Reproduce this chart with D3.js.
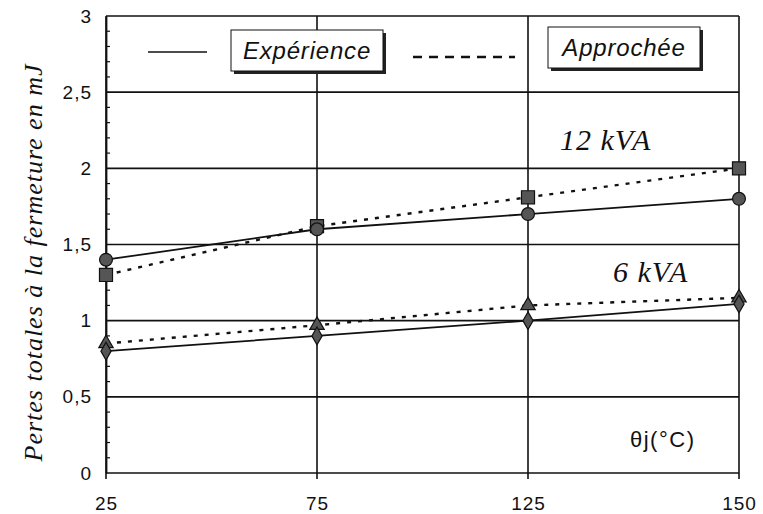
<!DOCTYPE html>
<html>
<head>
<meta charset="utf-8">
<script src="https://cdn.jsdelivr.net/npm/d3@7"></script>
<style>
  body { margin: 0; background: #fff; }
  svg { display: block; }
</style>
</head>
<body>
<svg id="chart" width="763" height="514"></svg>
<script>
// données
var temperatures = ["25", "75", "125", "150"];
var yTicks = [0, 0.5, 1, 1.5, 2, 2.5, 3];
var exp12 = [1.4, 1.6, 1.7, 1.8];     // Expérience 12 kVA
var app12 = [1.3, 1.62, 1.81, 2.0];   // Approchée 12 kVA
var exp6 = [0.8, 0.9, 1.0, 1.11];     // Expérience 6 kVA
var app6 = [0.85, 0.97, 1.1, 1.15];   // Approchée 6 kVA

var svg = d3.select("#chart");
var margin = { top: 16, right: 24, bottom: 41, left: 106 };
var width = +svg.attr("width") - margin.left - margin.right;
var height = +svg.attr("height") - margin.top - margin.bottom;

var g = svg.append("g")
  .attr("transform", "translate(" + margin.left + "," + margin.top + ")");

var x = d3.scalePoint().domain(temperatures).range([0, width]).padding(0);
var y = d3.scaleLinear().domain([0, 3]).range([height, 0]);

var sans = "Liberation Sans, Arial, sans-serif";
var serif = "Liberation Serif, Times New Roman, serif";

// grille horizontale
g.append("g").selectAll("line")
  .data(yTicks)
  .enter().append("line")
  .attr("x1", 0).attr("x2", width)
  .attr("y1", function(d) { return y(d); })
  .attr("y2", function(d) { return y(d); })
  .attr("stroke", "#111").attr("stroke-width", 1.6);

// grille verticale
g.append("g").selectAll("line")
  .data(temperatures)
  .enter().append("line")
  .attr("x1", function(d) { return x(d); })
  .attr("x2", function(d) { return x(d); })
  .attr("y1", 0).attr("y2", height + 6)
  .attr("stroke", "#111").attr("stroke-width", 1.6);

// petites graduations
var minor = d3.range(0, 3.01, 0.1).filter(function(d) { return Math.abs(d * 2 - Math.round(d * 2)) > 0.01; });
g.append("g").selectAll("line")
  .data(minor)
  .enter().append("line")
  .attr("x1", 0).attr("x2", 4)
  .attr("y1", function(d) { return y(d); })
  .attr("y2", function(d) { return y(d); })
  .attr("stroke", "#111").attr("stroke-width", 1.2);

// axes
var yAxis = g.append("g")
  .call(d3.axisLeft(y).tickValues(yTicks).tickSize(0).tickPadding(14)
    .tickFormat(function(d) { return String(d).replace(".", ","); }));
yAxis.select(".domain").attr("stroke", "#111").attr("stroke-width", 1.8);
yAxis.selectAll("text")
  .style("font-family", sans)
  .style("font-size", "19px").style("letter-spacing", "1px").attr("fill", "#111");

var xAxis = g.append("g")
  .attr("transform", "translate(0," + height + ")")
  .call(d3.axisBottom(x).tickSize(0).tickPadding(24));
xAxis.select(".domain").remove();
xAxis.selectAll("text")
  .style("font-family", sans)
  .style("font-size", "19px").style("letter-spacing", "1px").attr("fill", "#111");

// courbes
var line = d3.line()
  .x(function(d, i) { return x(temperatures[i]); })
  .y(function(d) { return y(d); });

function drawLine(values, dashed) {
  g.append("path")
    .datum(values)
    .attr("d", line)
    .attr("fill", "none")
    .attr("stroke", "#111")
    .attr("stroke-width", dashed ? 2.4 : 1.8)
    .attr("stroke-dasharray", dashed ? "4,7" : null);
}
drawLine(app12, true);
drawLine(exp12, false);
drawLine(app6, true);
drawLine(exp6, false);

function drawMarkers(values, type, size) {
  g.append("g").selectAll("path")
    .data(values)
    .enter().append("path")
    .attr("transform", function(d, i) { return "translate(" + x(temperatures[i]) + "," + y(d) + ")"; })
    .attr("d", d3.symbol().type(type).size(size))
    .attr("fill", "#555")
    .attr("stroke", "#111")
    .attr("stroke-width", 1.2);
}
drawMarkers(app12, d3.symbolSquare, 170);
drawMarkers(exp12, d3.symbolCircle, 130);
drawMarkers(app6, d3.symbolTriangle, 90);
drawMarkers(exp6, d3.symbolDiamond, 90);

// légende
var legend = [
  { label: "Expérience", x1: 42, x2: 101, ly: 36, bx: 125, by: 14, bw: 152, dashed: false },
  { label: "Approchée", x1: 307, x2: 409, ly: 41, bx: 442, by: 11, bw: 152, dashed: true }
];
legend.forEach(function(l) {
  g.append("line")
    .attr("x1", l.x1).attr("x2", l.x2)
    .attr("y1", l.ly).attr("y2", l.ly)
    .attr("stroke", "#111")
    .attr("stroke-width", l.dashed ? 2.4 : 1.4)
    .attr("stroke-dasharray", l.dashed ? "9,7" : null);
  g.append("rect")
    .attr("x", l.bx + 3).attr("y", l.by + 3)
    .attr("width", l.bw).attr("height", 41)
    .attr("fill", "#222");
  g.append("rect")
    .attr("x", l.bx).attr("y", l.by)
    .attr("width", l.bw).attr("height", 41)
    .attr("fill", "#fff").attr("stroke", "#111").attr("stroke-width", 1);
  g.append("text")
    .attr("x", l.bx + l.bw / 2).attr("y", l.by + 29)
    .attr("text-anchor", "middle")
    .style("font-family", sans)
    .style("font-style", "italic")
    .style("font-size", "24px")
    .style("letter-spacing", "0.8px")
    .attr("fill", "#111")
    .text(l.label);
});

// annotations
function note(text, tx, ty, isSerif, size, spacing) {
  g.append("text")
    .attr("x", tx).attr("y", ty)
    .style("font-family", isSerif ? serif : sans)
    .style("font-style", isSerif ? "italic" : "normal")
    .style("font-size", size + "px")
    .style("letter-spacing", spacing + "px")
    .attr("fill", "#111")
    .text(text);
}
note("12 kVA", 454, 134, true, 30, 1);
note("6 kVA", 507, 266, true, 30, 1);
note("θj(°C)", 524, 431, false, 22, 1.5);

// titre axe y
svg.append("text")
  .attr("transform", "translate(42," + (margin.top + height / 2 + 18) + ") rotate(-90)")
  .attr("text-anchor", "middle")
  .style("font-family", serif)
  .style("font-style", "italic")
  .style("font-size", "26px")
  .style("letter-spacing", "1px")
  .attr("fill", "#111")
  .text("Pertes totales à la fermeture en mJ");
</script>
</body>
</html>
